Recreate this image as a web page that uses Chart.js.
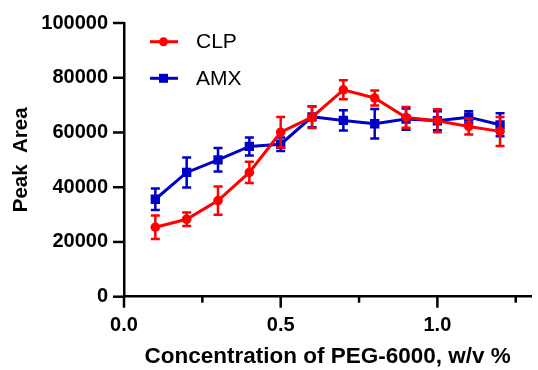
<!DOCTYPE html>
<html><head><meta charset="utf-8">
<script src="https://cdn.jsdelivr.net/npm/chart.js@4.4.0/dist/chart.umd.min.js"></script>
<style>html,body{margin:0;padding:0;background:#fff;}#wrap{width:538px;height:370px;}</style>
</head><body><div id="wrap"><canvas id="c" width="538" height="370"></canvas></div>
<script>
const concentrations = [0.1, 0.2, 0.3, 0.4, 0.5, 0.6, 0.7, 0.8, 0.9, 1.0, 1.1, 1.2];
const clpValues = [25400, 28300, 35100, 45400, 60100, 65600, 75600, 72600, 65500, 64300, 62200, 60400];
const clpErrors = [4300, 2500, 5200, 3900, 5600, 4000, 3500, 2700, 3800, 4200, 2900, 5300];
const amxValues = [35600, 45400, 50000, 54900, 55700, 65700, 64400, 63200, 64900, 64300, 65600, 62800];
const amxErrors = [3900, 5500, 4300, 3300, 2500, 3800, 3700, 5400, 3900, 3500, 2200, 4200];
const xTickValues = [0, 0.25, 0.5, 0.75, 1.0, 1.25];
const xTickLabels = ['0.0', '', '0.5', '', '1.0', ''];
const yTickValues = [0, 20000, 40000, 60000, 80000, 100000];
const seriesNames = ['CLP', 'AMX'];
const RED = '#ff0000', BLUE = '#0000c8';
const FONT = '"Liberation Sans", Arial, Helvetica, sans-serif';

function pts(xs, ys) { return xs.map((x, i) => ({x: x, y: ys[i]})); }

const errorBars = {
  id: 'errorBars',
  beforeDatasetDraw(chart, args) {
    const ds = chart.data.datasets[args.index];
    const xs = chart.scales.x, ys = chart.scales.y, ctx = chart.ctx;
    ctx.save();
    ctx.strokeStyle = ds.borderColor; ctx.lineWidth = 2.5; ctx.lineCap = 'butt';
    ds.data.forEach((p, i) => {
      const e = ds.errors[i];
      const px = xs.getPixelForValue(p.x);
      const top = ys.getPixelForValue(p.y + e), bot = ys.getPixelForValue(p.y - e);
      ctx.beginPath();
      ctx.moveTo(px, top); ctx.lineTo(px, bot);
      ctx.moveTo(px - 4.5, top); ctx.lineTo(px + 4.5, top);
      ctx.moveTo(px - 4.5, bot); ctx.lineTo(px + 4.5, bot);
      ctx.stroke();
    });
    ctx.restore();
  }
};

const tickMarks = {
  id: 'tickMarks',
  afterDraw(chart) {
    const ctx = chart.ctx, xs = chart.scales.x, ys = chart.scales.y;
    ctx.save();
    ctx.strokeStyle = '#000'; ctx.lineWidth = 2.5;
    const ay = ys.getPixelForValue(0), ax = xs.getPixelForValue(0);
    xs.ticks.forEach((t, i) => {
      const px = xs.getPixelForValue(t.value);
      const len = xTickLabels[i] ? 11 : 6;
      ctx.beginPath(); ctx.moveTo(px, ay); ctx.lineTo(px, ay + len); ctx.stroke();
    });
    ys.ticks.forEach(t => {
      const py = ys.getPixelForValue(t.value);
      ctx.beginPath(); ctx.moveTo(ax, py); ctx.lineTo(ax - 11, py); ctx.stroke();
    });
    ctx.restore();
  }
};

const insideLegend = {
  id: 'insideLegend',
  afterDraw(chart) {
    const ctx = chart.ctx;
    const rows = [41.7, 78.3];
    ctx.save();
    chart.data.datasets.forEach((ds, i) => {
      const y = rows[i];
      ctx.strokeStyle = ds.borderColor; ctx.lineWidth = 3;
      ctx.beginPath(); ctx.moveTo(150, y); ctx.lineTo(178, y); ctx.stroke();
      ctx.fillStyle = ds.borderColor;
      if (ds.pointStyle === 'rect') { ctx.fillRect(159, y - 4.5, 9, 9); }
      else { ctx.beginPath(); ctx.arc(163.5, y, 4.5, 0, Math.PI * 2); ctx.fill(); }
      ctx.fillStyle = '#000'; ctx.font = '21px ' + FONT; ctx.textBaseline = 'middle';
      ctx.fillText(ds.label, 196, y + 1);
    });
    ctx.restore();
  }
};

new Chart(document.getElementById('c'), {
  type: 'line',
  data: {
    datasets: [
      {label: seriesNames[0], data: pts(concentrations, clpValues), errors: clpErrors,
       borderColor: RED, backgroundColor: RED, borderWidth: 3, pointStyle: 'circle',
       pointRadius: 4.8, pointBorderWidth: 0, tension: 0},
      {label: seriesNames[1], data: pts(concentrations, amxValues), errors: amxErrors,
       borderColor: BLUE, backgroundColor: BLUE, borderWidth: 3, pointStyle: 'rect',
       pointRadius: 6.6, pointBorderWidth: 0, tension: 0}
    ]
  },
  options: {
    responsive: false, animation: false, devicePixelRatio: 1,
    layout: {padding: {top: 23, right: 1, left: 0, bottom: 0}},
    plugins: {legend: {display: false}, tooltip: {enabled: false}},
    scales: {
      x: {
        type: 'linear', min: 0, max: 1.3,
        afterBuildTicks: s => { s.ticks = xTickValues.map(v => ({value: v})); },
        afterFit: s => { s.height = 73.3; },
        ticks: {callback: (v, i) => xTickLabels[i], color: '#000', font: {family: FONT, size: 20, weight: 'bold'}, padding: 9, maxRotation: 0, autoSkip: false},
        grid: {display: true, drawOnChartArea: false, drawTicks: true, tickLength: 8, color: 'rgba(0,0,0,0)'},
        border: {display: true, color: '#000', width: 2.5},
        title: {display: true, text: 'Concentration of PEG-6000, w/v %', color: '#000', font: {family: FONT, size: 22.5, weight: 'bold'}, padding: {top: 0, bottom: 0}}
      },
      y: {
        type: 'linear', min: 0, max: 100000,
        afterBuildTicks: s => { s.ticks = yTickValues.map(v => ({value: v})); },
        afterFit: s => { s.width = 124; },
        ticks: {callback: v => String(v), color: '#000', font: {family: FONT, size: 20, weight: 'bold'}, padding: 5},
        grid: {display: true, drawOnChartArea: false, drawTicks: true, tickLength: 11, color: 'rgba(0,0,0,0)'},
        border: {display: true, color: '#000', width: 2.5},
        title: {display: true, text: 'Peak  Area', color: '#000', font: {family: FONT, size: 20.5, weight: 'bold'}, padding: {top: 9, bottom: 0}}
      }
    }
  },
  plugins: [errorBars, tickMarks, insideLegend]
});
</script></body></html>
